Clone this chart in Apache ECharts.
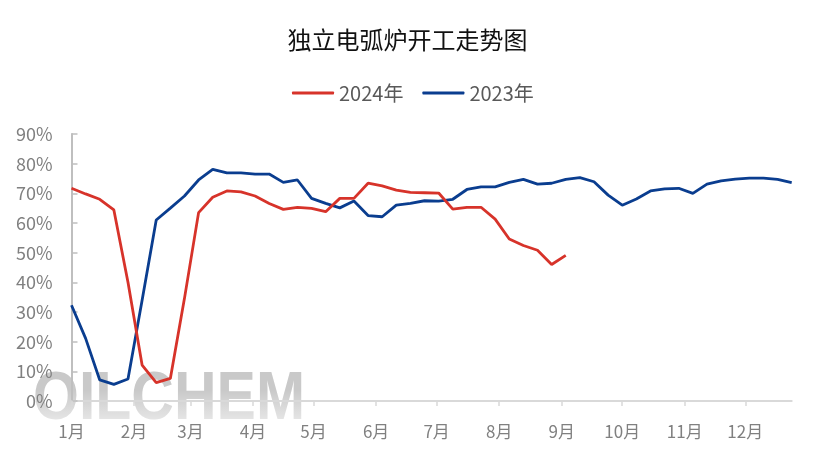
<!DOCTYPE html>
<html>
<head>
<meta charset="utf-8">
<script src="https://cdn.jsdelivr.net/npm/echarts@6/dist/echarts.min.js"></script>
<style>
html,body{margin:0;padding:0;background:#fff;}
#c{width:815px;height:461px;}
</style>
</head>
<body>
<div id="c"></div>
<script>
// Month labels and their day-of-year positions
var monthLabels = ['1月','2月','3月','4月','5月','6月','7月','8月','9月','10月','11月','12月'];
var monthStartDays = [0,31,59,90,120,151,181,212,243,273,304,334];
// Weekly data (day offset of each week = index * 7)
var weekStep = 7;
var values2024 = [71.7,69.8,68.0,64.4,40.0,12.1,6.2,7.6,34.6,63.5,68.7,70.8,70.5,69.1,66.6,64.6,65.3,64.9,63.8,68.3,68.3,73.4,72.5,71.1,70.3,70.2,70.1,64.7,65.3,65.3,61.3,54.6,52.4,50.8,46.0,49.1];
var values2023 = [32.3,21.1,7.1,5.6,7.4,34.0,61.0,65.0,69.1,74.5,78.1,76.9,76.9,76.5,76.5,73.7,74.5,68.3,66.6,65.1,67.4,62.5,62.1,66.0,66.6,67.5,67.4,68.0,71.3,72.2,72.2,73.7,74.7,73.1,73.4,74.7,75.3,73.9,69.4,66.0,68.1,70.8,71.5,71.7,70.0,73.1,74.2,74.8,75.1,75.1,74.7,73.6];
var yTicks = [0,10,20,30,40,50,60,70,80,90];

function toPairs(arr){ return arr.map(function(v,i){ return [i*weekStep, v]; }); }

var FONT = '"Noto Sans CJK SC", "Noto Sans", sans-serif';
var chart = echarts.init(document.getElementById('c'), null, {renderer:'canvas'});
var axisColor = '#808080';
chart.setOption({
  animation:false,
  backgroundColor:'#ffffff',
  title:{
    text:'独立电弧炉开工走势图',
    left:'center', top:23,
    textStyle:{fontSize:24, fontWeight:'normal', color:'#111111', fontFamily:FONT}
  },
  legend:{
    top:78, left:287,
    icon:'roundRect',
    itemWidth:42, itemHeight:3, itemGap:19,
    textStyle:{fontSize:20, color:'#595959', fontFamily:FONT},
    data:['2024年','2023年']
  },
  grid:{left:71.5, right:23.3, top:134, bottom:60, containLabel:false},
  xAxis:{
    type:'value', min:0, max:(values2023.length-1)*weekStep,
    axisLine:{show:true, lineStyle:{color:'#d9d9d9', width:2}},
    axisTick:{show:true, customValues:monthStartDays, length:5, lineStyle:{color:'#d9d9d9', width:1.5}},
    axisLabel:{
      customValues:monthStartDays, margin:22,
      fontSize:17, color:axisColor, fontFamily:FONT,
      formatter:function(v){ var k = monthStartDays.indexOf(v); return k>=0 ? monthLabels[k] : ''; }
    },
    splitLine:{show:false}
  },
  yAxis:{
    type:'value', min:yTicks[0], max:yTicks[yTicks.length-1], interval:10,
    axisLine:{show:true, lineStyle:{color:'#bfbfbf', width:2}},
    axisTick:{show:true, inside:true, length:6, lineStyle:{color:'#bfbfbf', width:1.5}},
    axisLabel:{formatter:'{value}%', fontSize:18, color:axisColor, margin:19, fontFamily:FONT},
    splitLine:{show:false}
  },
  graphic:[{
    type:'text', left:33, top:366, z:-10, silent:true, scaleY:1.15,
    style:{
      text:'OILCHEM',
      font:'bold 59px "Liberation Sans", Arial, sans-serif',
      fill:'#c9c9c9'
    }
  },{
    type:'rect', left:20, top:390, z:-9, silent:true,
    shape:{width:310, height:48},
    style:{
      fill:new echarts.graphic.LinearGradient(0,0,0,1,[{offset:0,color:'rgba(255,255,255,0)'},{offset:1,color:'rgba(255,255,255,0.85)'}])
    }
  }],
  series:[
    {name:'2024年', type:'line', data:toPairs(values2024), showSymbol:false, symbol:'none', smooth:false,
     lineStyle:{color:'#D7332A', width:2.8}, itemStyle:{color:'#D7332A'}, z:3},
    {name:'2023年', type:'line', data:toPairs(values2023), showSymbol:false, symbol:'none', smooth:false,
     lineStyle:{color:'#0A3D8F', width:2.8}, itemStyle:{color:'#0A3D8F'}, z:2}
  ]
});
</script>
</body>
</html>
